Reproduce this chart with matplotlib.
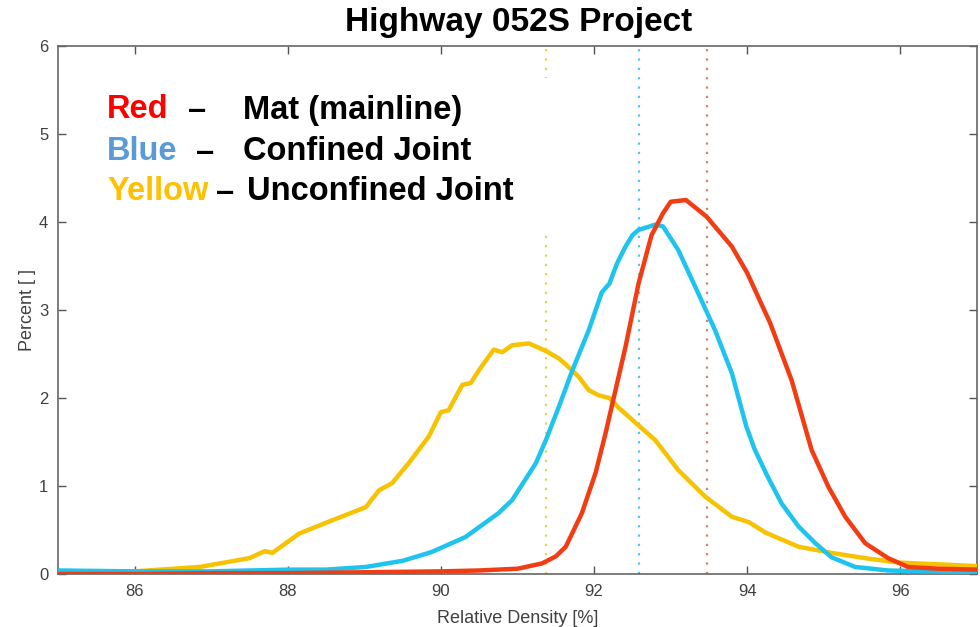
import matplotlib
matplotlib.use("Agg")
import matplotlib.pyplot as plt
from matplotlib.patches import Rectangle

plt.rcParams['font.family'] = ['Liberation Sans', 'DejaVu Sans']

# Relative density distributions (percent of readings)
mat_x = [85, 86, 87, 88, 89, 90, 90.5, 91.0, 91.32, 91.5, 91.63, 91.84, 92.02, 92.15,
         92.24, 92.41, 92.58, 92.75, 92.9, 93.0, 93.2, 93.47, 93.8, 94.0, 94.3, 94.58,
         94.84, 95.06, 95.28, 95.54, 95.84, 96.1, 96.5, 97]
mat_y = [0.0, 0.0, 0.01, 0.01, 0.02, 0.03, 0.04, 0.06, 0.12, 0.2, 0.31, 0.69, 1.15, 1.6,
         1.94, 2.58, 3.3, 3.85, 4.1, 4.23, 4.25, 4.06, 3.72, 3.42, 2.85, 2.2,
         1.41, 0.99, 0.65, 0.35, 0.18, 0.08, 0.06, 0.05]

confined_x = [85, 86, 87, 88, 88.5, 89.02, 89.5, 89.88, 90.32, 90.75, 90.93, 91.24,
              91.37, 91.54, 91.71, 91.93, 92.1, 92.2, 92.3, 92.41, 92.5, 92.58, 92.8,
              92.9, 93.1, 93.36, 93.58, 93.8, 93.99, 94.1, 94.27, 94.45, 94.67, 94.89,
              95.1, 95.41, 95.84, 97]
confined_y = [0.04, 0.03, 0.03, 0.05, 0.05, 0.08, 0.15, 0.25, 0.42, 0.69, 0.84, 1.26,
              1.52, 1.9, 2.3, 2.77, 3.2, 3.3, 3.53, 3.72, 3.85, 3.91, 3.97,
              3.95, 3.68, 3.19, 2.77, 2.28, 1.67, 1.41, 1.1, 0.8, 0.54, 0.35,
              0.19, 0.08, 0.04, 0.02]

unconfined_x = [85, 86, 86.85, 87.5, 87.7, 87.8, 88.15, 88.58, 89.02, 89.19, 89.36,
                89.58, 89.84, 90.0, 90.1, 90.28, 90.39, 90.5, 90.69, 90.8, 90.93,
                91.15, 91.28, 91.38, 91.54, 91.67, 91.8, 91.93, 92.06, 92.2, 92.32,
                92.5, 92.8, 93.1, 93.45, 93.8, 94.02, 94.24, 94.67, 95.1, 95.54,
                95.97, 97]
unconfined_y = [0.0, 0.03, 0.08, 0.18, 0.26, 0.24, 0.46, 0.61, 0.76, 0.95, 1.03,
                1.26, 1.56, 1.84, 1.86, 2.15, 2.17, 2.32, 2.55, 2.52, 2.6,
                2.62, 2.57, 2.53, 2.45, 2.35, 2.24, 2.09, 2.03, 2.0, 1.89,
                1.75, 1.52, 1.18, 0.88, 0.65, 0.59, 0.47, 0.31, 0.24, 0.18,
                0.13, 0.09]

# Mean markers for each distribution
mean_values = [93.48, 92.58, 91.37]
mean_colors = ['#d98070', '#50c8e8', '#d8d850']

x_ticks = [86, 88, 90, 92, 94, 96]
y_ticks = [0, 1, 2, 3, 4, 5, 6]

RED = '#f23c14'
BLUE = '#1ec3ee'
YELLOW = '#f7c200'

W, H = 980, 627
fig = plt.figure(figsize=(W / 100, H / 100), dpi=100)
ax = fig.add_axes([58 / W, 1 - 574 / H, (977 - 58) / W, (574 - 46) / H])

for xv, c in zip(mean_values, mean_colors):
    ax.axvline(xv, color=c, lw=1.6, linestyle=(0, (1, 3.2)), zorder=2)

ax.plot(unconfined_x, unconfined_y, color=YELLOW, lw=3.2, zorder=4,
        solid_joinstyle='round', solid_capstyle='round')
ax.plot(confined_x, confined_y, color=BLUE, lw=3.2, zorder=5,
        solid_joinstyle='round', solid_capstyle='round')
ax.plot(mat_x, mat_y, color=RED, lw=3.2, zorder=6,
        solid_joinstyle='round', solid_capstyle='round')

ax.set_xlim(85, 97)
ax.set_ylim(0, 6)
ax.set_xticks(x_ticks)
ax.set_yticks(y_ticks)
ax.tick_params(direction='in', length=6, width=1, colors='#555555',
               labelcolor='#404040', labelsize=12, top=True, right=True, pad=7)
for s in ax.spines.values():
    s.set_color('#666666')
    s.set_linewidth(1.2)

ax.set_xlabel('Relative Density [%]', fontsize=13, color='#404040', labelpad=8)
ax.set_ylabel('Percent [ ]', fontsize=13, color='#404040', labelpad=2)

fig.text(519 / W, 1 - 23 / H, 'Highway 052S Project', ha='center', va='center',
         fontsize=24, fontweight='bold', color='black')

# White background of the legend annotation
ax.add_patch(Rectangle((95 / W, 1 - 230 / H), (565 - 95) / W, (230 - 78) / H,
                       transform=fig.transFigure, facecolor='white',
                       edgecolor='none', zorder=3))

rows = [
    ('Red', '#ff0000', 110, 188, 'Mat (mainline)', 243),
    ('Blue', '#5b9bd5', 152, 196, 'Confined Joint', 243),
    ('Yellow', '#ffc000', 192, 216, 'Unconfined Joint', 247),
]
for word, col, yp, dash_x, desc, desc_x in rows:
    fig.text(107 / W, 1 - yp / H, word, color=col, fontsize=23.5,
             fontweight='bold', va='center', ha='left', zorder=7)
    fig.text(dash_x / W, 1 - yp / H, '\u2013', color='black', fontsize=23.5,
             fontweight='bold', va='center', ha='left', zorder=7)
    fig.text(desc_x / W, 1 - yp / H, desc, color='black', fontsize=23.5,
             fontweight='bold', va='center', ha='left', zorder=7)

fig.savefig('out.png', dpi=100, facecolor='white')
